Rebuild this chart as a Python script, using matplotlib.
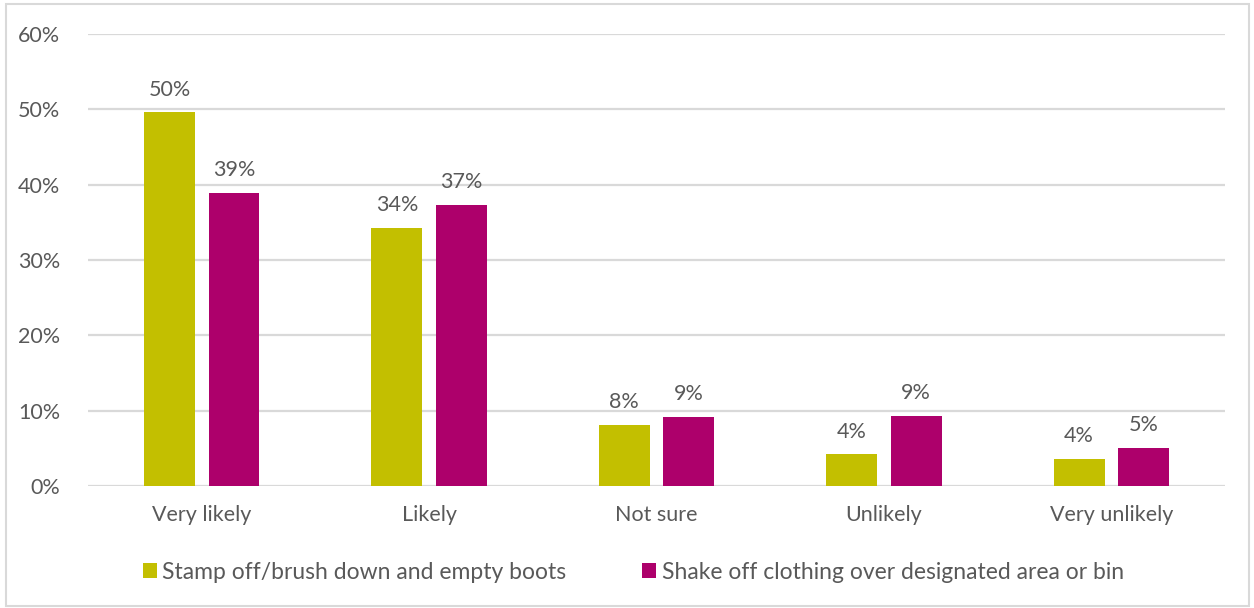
import numpy as np
import matplotlib.pyplot as plt
from matplotlib.patches import Rectangle
from matplotlib.ticker import PercentFormatter

categories = ['Very likely', 'Likely', 'Not sure', 'Unlikely', 'Very unlikely']
stamp_off = [0.496, 0.343, 0.081, 0.042, 0.036]
shake_off = [0.389, 0.373, 0.092, 0.093, 0.051]
series_names = ['Stamp off/brush down and empty boots',
                'Shake off clothing over designated area or bin']

col1 = '#C3BF00'
col2 = '#AD006B'
txt = '#595959'
fs = 15.5

plt.rcParams['font.family'] = ['Lato', 'DejaVu Sans']

fig = plt.figure(figsize=(12.54, 6.08), dpi=100)
ax = fig.add_axes([0.0702, 0.2007, 0.9067, 0.7434])

x = np.arange(len(categories))
w = 0.224
off = 0.142
b1 = ax.bar(x - off, stamp_off, w, color=col1, label=series_names[0], zorder=3)
b2 = ax.bar(x + off, shake_off, w, color=col2, label=series_names[1], zorder=3)

for bars, vals in ((b1, stamp_off), (b2, shake_off)):
    for r, v in zip(bars, vals):
        ax.annotate('%.0f%%' % (v * 100), (r.get_x() + r.get_width() / 2, v),
                    xytext=(0, 9), textcoords='offset points',
                    ha='center', va='bottom', fontsize=fs, color=txt)

ax.set_xlim(-0.5, len(categories) - 0.5)
ax.set_ylim(0, 0.6)
ax.set_yticks(np.arange(0, 0.61, 0.1))
ax.yaxis.set_major_formatter(PercentFormatter(1.0, decimals=0))
ax.set_xticks(x)
ax.set_xticklabels(categories)
ax.tick_params(axis='both', length=0, labelsize=fs, colors=txt)
ax.tick_params(axis='x', pad=14)
ax.tick_params(axis='y', pad=20)
ax.grid(axis='y', color='#D9D9D9', linewidth=1.6, zorder=0)
for s in ax.spines.values():
    s.set_visible(False)

leg = fig.legend(loc='center', bbox_to_anchor=(0.505, 0.059), ncol=2,
                 frameon=False, fontsize=16.5, handlelength=0.6,
                 handleheight=0.6, handletextpad=0.25, columnspacing=3.3)
for t in leg.get_texts():
    t.set_color(txt)

fig.patches.append(Rectangle((0.005, 0.003), 0.991, 0.991, transform=fig.transFigure,
                             fill=False, edgecolor='#D9D9D9', linewidth=1.5))

plt.savefig('out.png', dpi=100)
